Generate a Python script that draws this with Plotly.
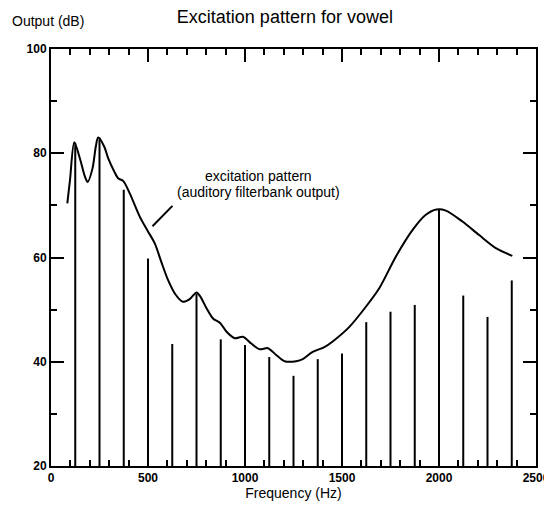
import plotly.graph_objects as go

# Harmonic components of the vowel (Hz) and their levels (dB)
HARM_F = [125, 250, 375, 500, 625, 750, 875, 1000, 1125, 1250,
          1375, 1500, 1625, 1750, 1875, 2000, 2125, 2250, 2375]
HARM_DB = [82.0, 83.0, 73.0, 59.8, 43.4, 53.0, 44.3, 43.2, 40.9, 37.3,
           40.5, 41.6, 47.6, 49.6, 50.9, 69.2, 52.7, 48.6, 55.6]

# Excitation pattern (auditory filterbank output)
CURVE_F = [84, 98, 120, 149, 175, 189, 214, 231, 243, 274, 295, 326, 346, 372,
           406, 458, 500, 535, 570, 603, 640, 680, 715, 750, 770, 801, 835, 873,
           904, 947, 989, 1032, 1075, 1118, 1161, 1204, 1264, 1298, 1349, 1409,
           1452, 1538, 1624, 1692, 1778, 1864, 1932, 1987, 2035, 2121, 2207,
           2293, 2378]
CURVE_DB = [70.4, 74.9, 82.1, 79.0, 75.5, 74.5, 77.1, 81.3, 83.0, 81.3, 79.0,
            76.5, 75.2, 74.7, 72.3, 67.8, 65.0, 62.7, 59.0, 55.7, 53.0, 51.5,
            52.0, 53.3, 52.5, 50.3, 48.3, 47.4, 45.8, 44.5, 44.8, 43.5, 42.4,
            42.6, 41.3, 40.1, 40.1, 40.5, 41.9, 42.8, 43.9, 46.7, 50.6, 54.1,
            60.2, 65.3, 68.2, 69.2, 69.0, 66.9, 64.3, 61.8, 60.3]

X_RANGE = [0, 2500]
Y_RANGE = [20, 100]
X_TICKS = [0, 500, 1000, 1500, 2000, 2500]
Y_TICKS = [20, 40, 60, 80, 100]

FONT = "Liberation Sans, Arial, Helvetica, sans-serif"

# build stem segments from the harmonic data
sx, sy = [], []
for f, d in zip(HARM_F, HARM_DB):
    sx += [f, f, None]
    sy += [Y_RANGE[0], d, None]

fig = go.Figure()
fig.add_trace(go.Scatter(x=sx, y=sy, mode="lines",
                         line=dict(color="black", width=2),
                         hoverinfo="skip", showlegend=False))
fig.add_trace(go.Scatter(x=CURVE_F, y=CURVE_DB, mode="lines",
                         line=dict(color="black", width=2, shape="spline", smoothing=0.8),
                         showlegend=False))

axis_common = dict(
    showline=True, linecolor="black", linewidth=2, mirror="ticks",
    ticks="inside", ticklen=13, tickwidth=2, tickcolor="black",
    showgrid=False, zeroline=False, automargin=False,
    tickfont=dict(family=FONT, size=12, color="black", weight="bold"),
)

fig.update_xaxes(range=X_RANGE, tickvals=X_TICKS,
                 minor=dict(dtick=100, ticks="inside", ticklen=6, tickwidth=1.5,
                            tickcolor="black", showgrid=False),
                 title=dict(text="Frequency (Hz)", standoff=4,
                            font=dict(family=FONT, size=14, color="black")),
                 **axis_common)
fig.update_yaxes(range=Y_RANGE, tickvals=Y_TICKS,
                 minor=dict(dtick=10, ticks="inside", ticklen=6, tickwidth=1.5,
                            tickcolor="black", showgrid=False),
                 **axis_common)

fig.add_shape(type="line", xref="x", yref="y", x0=626, y0=69.9, x1=523, y1=66.0,
              line=dict(color="black", width=2))

fig.add_annotation(text="excitation pattern", xref="x", yref="y", x=1067, y=75.6,
                   showarrow=False, xanchor="center", yanchor="middle",
                   font=dict(family=FONT, size=14, color="black"))
fig.add_annotation(text="(auditory filterbank output)", xref="x", yref="y", x=1067, y=72.6,
                   showarrow=False, xanchor="center", yanchor="middle",
                   font=dict(family=FONT, size=14, color="black"))
fig.add_annotation(text="Output (dB)", xref="paper", yref="paper",
                   x=-0.0845, y=1.067, xanchor="left", yanchor="middle",
                   showarrow=False, font=dict(family=FONT, size=14, color="black"))

# page body adds an 8px offset; figure is sized so the plot lands where the reference has it
fig.update_layout(
    width=544, height=502,
    margin=dict(l=43, r=16, t=41, b=44, autoexpand=False),
    paper_bgcolor="white", plot_bgcolor="white",
    title=dict(text="Excitation pattern for vowel", x=0.509, xanchor="center",
               xref="container", y=0.982, yanchor="middle", automargin=False,
               font=dict(family=FONT, size=18, color="black")),
)

fig.write_html("out.html")
